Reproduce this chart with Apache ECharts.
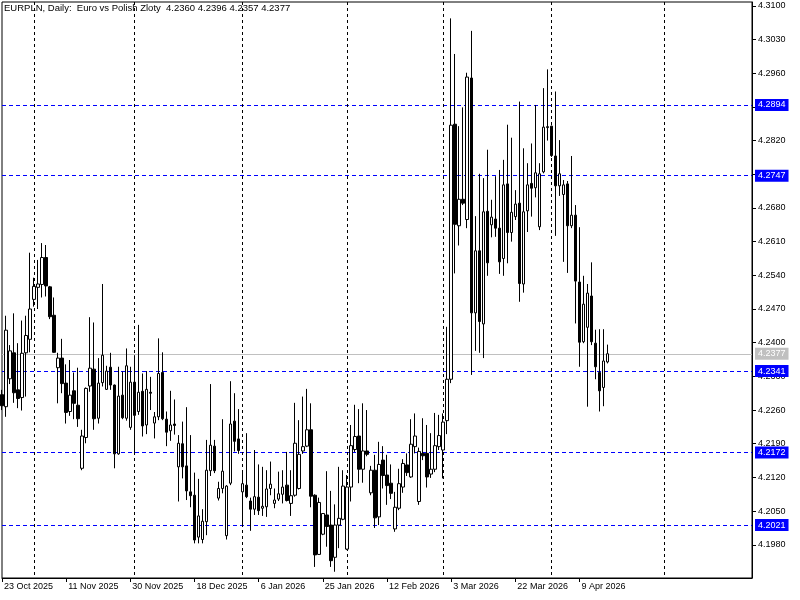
<!DOCTYPE html>
<html>
<head>
<meta charset="utf-8">
<title>EURPLN Daily</title>
<script src="https://cdn.jsdelivr.net/npm/echarts@6/dist/echarts.min.js"></script>
<style>
  html, body { margin: 0; padding: 0; background: #fff; }
  #main { width: 800px; height: 600px; }
</style>
</head>
<body>
<div id="main"></div>
<script>
// daily bars, EURPLN
var opens = [
  4.2292, 4.2267, 4.2325, 4.2379, 4.2302, 4.2286, 4.2379, 4.2407, 4.2490, 4.2515,
  4.2521, 4.2577, 4.2516, 4.2457, 4.2348, 4.2368, 4.2316, 4.2257, 4.2300, 4.2270,
  4.2139, 4.2203, 4.2310, 4.2345, 4.2243, 4.2317, 4.2303, 4.2349, 4.2312, 4.2169,
  4.2291, 4.2243, 4.2224, 4.2318, 4.2257, 4.2299, 4.2229, 4.2297, 4.2233, 4.2246,
  4.2338, 4.2241, 4.2217, 4.2231, 4.2142, 4.2190, 4.2144, 4.2090, 4.2083, 4.1996,
  4.1991, 4.2028, 4.2134, 4.2185, 4.2077, 4.2097, 4.1999, 4.2108, 4.2237, 4.2200,
  4.2090, 4.2104, 4.2071, 4.2054, 4.2079, 4.2056, 4.2059, 4.2097, 4.2066, 4.2075,
  4.2085, 4.2104, 4.2066, 4.2083, 4.2097, 4.2175, 4.2185, 4.2219, 4.2083, 4.1960,
  4.2002, 4.2042, 4.2021, 4.1954, 4.2021, 4.2033, 4.1971, 4.2100, 4.2178, 4.2206,
  4.2137, 4.2175, 4.2088, 4.2135, 4.2038, 4.2156, 4.2125, 4.2108, 4.2013, 4.2056,
  4.2100, 4.2146, 4.2121, 4.2184, 4.2070, 4.2170, 4.2170, 4.2127, 4.2137, 4.2184,
  4.2177, 4.2238, 4.2324, 4.2854, 4.2643, 4.2698, 4.2656, 4.2950, 4.2462, 4.2591,
  4.2439, 4.2673, 4.2645, 4.2657, 4.2638, 4.2575, 4.2730, 4.2629, 4.2662, 4.2690,
  4.2522, 4.2674, 4.2731, 4.2722, 4.2641, 4.2755, 4.2847, 4.2850, 4.2788, 4.2726,
  4.2708, 4.2730, 4.2643, 4.2665, 4.2526, 4.2402, 4.2432, 4.2497, 4.2399, 4.2338,
  4.2307, 4.2360
];
var highs = [
  4.2302, 4.2456, 4.2395, 4.2461, 4.2399, 4.2446, 4.2456, 4.2587, 4.2535, 4.2572,
  4.2607, 4.2603, 4.2518, 4.2494, 4.2379, 4.2408, 4.2355, 4.2364, 4.2338, 4.2348,
  4.2219, 4.2307, 4.2453, 4.2442, 4.2368, 4.2522, 4.2352, 4.2379, 4.2313, 4.2350,
  4.2340, 4.2388, 4.2350, 4.2374, 4.2437, 4.2336, 4.2341, 4.2329, 4.2256, 4.2409,
  4.2380, 4.2257, 4.2300, 4.2282, 4.2208, 4.2236, 4.2266, 4.2208, 4.2130, 4.2117,
  4.2054, 4.2198, 4.2314, 4.2198, 4.2111, 4.2241, 4.2104, 4.2320, 4.2295, 4.2262,
  4.2135, 4.2212, 4.2078, 4.2177, 4.2147, 4.2142, 4.2135, 4.2153, 4.2097, 4.2132,
  4.2135, 4.2173, 4.2135, 4.2275, 4.2239, 4.2288, 4.2304, 4.2274, 4.2085, 4.2078,
  4.2046, 4.2133, 4.2092, 4.2064, 4.2142, 4.2135, 4.2125, 4.2229, 4.2271, 4.2262,
  4.2274, 4.2260, 4.2144, 4.2167, 4.2194, 4.2185, 4.2167, 4.2147, 4.2090, 4.2138,
  4.2158, 4.2170, 4.2241, 4.2253, 4.2182, 4.2243, 4.2229, 4.2212, 4.2254, 4.2250,
  4.2253, 4.2433, 4.3074, 4.3000, 4.2850, 4.2889, 4.2961, 4.3048, 4.2663, 4.2751,
  4.2742, 4.2801, 4.2697, 4.2746, 4.2759, 4.2780, 4.2853, 4.2826, 4.2717, 4.2901,
  4.2804, 4.2773, 4.2814, 4.2894, 4.2773, 4.2929, 4.2968, 4.2851, 4.2922, 4.2821,
  4.2738, 4.2736, 4.2788, 4.2686, 4.2640, 4.2539, 4.2522, 4.2567, 4.2427, 4.2428,
  4.2428, 4.2396
];
var lows = [
  4.2260, 4.2246, 4.2314, 4.2275, 4.2264, 4.2259, 4.2288, 4.2380, 4.2475, 4.2470,
  4.2494, 4.2496, 4.2449, 4.2379, 4.2274, 4.2295, 4.2232, 4.2248, 4.2241, 4.2225,
  4.2135, 4.2191, 4.2298, 4.2219, 4.2232, 4.2309, 4.2302, 4.2302, 4.2139, 4.2167,
  4.2241, 4.2238, 4.2219, 4.2169, 4.2250, 4.2205, 4.2210, 4.2260, 4.2201, 4.2239,
  4.2239, 4.2185, 4.2196, 4.2209, 4.2070, 4.2118, 4.2073, 4.2058, 4.1983, 4.1983,
  4.1983, 4.2000, 4.2123, 4.2129, 4.2072, 4.2087, 4.1991, 4.2104, 4.2174, 4.2169,
  4.2017, 4.2077, 4.2009, 4.2042, 4.2042, 4.2040, 4.2038, 4.2083, 4.2056, 4.2071,
  4.2066, 4.2070, 4.2040, 4.2080, 4.2095, 4.2169, 4.2183, 4.2058, 4.1934, 4.1959,
  4.2000, 4.1976, 4.1934, 4.1924, 4.1973, 4.2031, 4.1969, 4.2070, 4.2173, 4.2108,
  4.2109, 4.2164, 4.2083, 4.2015, 4.2021, 4.2097, 4.2063, 4.2075, 4.2007, 4.2052,
  4.2088, 4.2123, 4.2119, 4.2170, 4.2063, 4.2156, 4.2099, 4.2119, 4.2131, 4.2177,
  4.2118, 4.2210, 4.2316, 4.2544, 4.2602, 4.2686, 4.2638, 4.2333, 4.2383, 4.2379,
  4.2368, 4.2539, 4.2619, 4.2620, 4.2543, 4.2539, 4.2565, 4.2610, 4.2655, 4.2485,
  4.2504, 4.2630, 4.2662, 4.2702, 4.2634, 4.2752, 4.2820, 4.2786, 4.2622, 4.2705,
  4.2568, 4.2545, 4.2638, 4.2440, 4.2350, 4.2399, 4.2267, 4.2395, 4.2324, 4.2257,
  4.2268, 4.2357
];
var closes = [
  4.2269, 4.2426, 4.2383, 4.2296, 4.2284, 4.2378, 4.2415, 4.2470, 4.2517, 4.2522,
  4.2577, 4.2518, 4.2454, 4.2380, 4.2368, 4.2315, 4.2255, 4.2291, 4.2274, 4.2242,
  4.2206, 4.2305, 4.2347, 4.2242, 4.2316, 4.2374, 4.2341, 4.2312, 4.2169, 4.2289,
  4.2244, 4.2352, 4.2318, 4.2249, 4.2297, 4.2227, 4.2303, 4.2295, 4.2246, 4.2336,
  4.2242, 4.2214, 4.2229, 4.2228, 4.2191, 4.2142, 4.2092, 4.2082, 4.1990, 4.2040,
  4.2029, 4.2135, 4.2187, 4.2134, 4.2097, 4.2133, 4.2102, 4.2231, 4.2195, 4.2176,
  4.2107, 4.2080, 4.2054, 4.2080, 4.2051, 4.2060, 4.2096, 4.2106, 4.2073, 4.2086,
  4.2100, 4.2072, 4.2082, 4.2191, 4.2168, 4.2184, 4.2219, 4.2081, 4.1959, 4.2068,
  4.2045, 4.2018, 4.1947, 4.2021, 4.2035, 4.2102, 4.2100, 4.2186, 4.2205, 4.2137,
  4.2175, 4.2168, 4.2135, 4.2036, 4.2147, 4.2124, 4.2103, 4.2087, 4.2058, 4.2107,
  4.2149, 4.2130, 4.2189, 4.2206, 4.2174, 4.2165, 4.2121, 4.2137, 4.2186, 4.2207,
  4.2235, 4.2324, 4.2852, 4.2646, 4.2698, 4.2690, 4.2952, 4.2462, 4.2591, 4.2444,
  4.2672, 4.2566, 4.2661, 4.2638, 4.2568, 4.2728, 4.2629, 4.2671, 4.2688, 4.2523,
  4.2672, 4.2728, 4.2721, 4.2753, 4.2751, 4.2848, 4.2849, 4.2789, 4.2726, 4.2751,
  4.2728, 4.2643, 4.2665, 4.2528, 4.2401, 4.2480, 4.2503, 4.2402, 4.2350, 4.2300,
  4.2362, 4.2377
];

// price ticks on the right scale
var yTicks = [4.1980, 4.2050, 4.2120, 4.2190, 4.2260, 4.2330, 4.2400, 4.2470,
  4.2540, 4.2610, 4.2680, 4.2750, 4.2820, 4.2890, 4.2960, 4.3030, 4.3100];
// horizontal levels drawn on the chart
var levels = [4.2021, 4.2172, 4.2341, 4.2747, 4.2894];
var bid = 4.2377;

var firstDay = Date.UTC(2025, 9, 23);
var futureBars = 36;     // empty space right of the last bar
var labelEvery = 16;
var months = ["Jan", "Feb", "Mar", "Apr", "May", "Jun", "Jul", "Aug", "Sep", "Oct", "Nov", "Dec"];

// trading days run Sun..Fri, the empty future part uses calendar days
var categories = [];
var monthIdx = [];
var t = firstDay;
while (categories.length < opens.length + futureBars) {
  var d = new Date(t);
  if (categories.length >= opens.length || d.getUTCDay() !== 6) {
    categories.push(d.getUTCDate() + " " + months[d.getUTCMonth()] + " " + d.getUTCFullYear());
    monthIdx.push(d.getUTCMonth());
  }
  t += 86400000;
}

var candles = opens.map(function (o, i) {
  return [o, closes[i], lows[i], highs[i]];
});

var font = "Liberation Sans";
var yMin = 4.1911;
var yMax = 4.3108;

function showLabel(index) {
  return index % labelEvery === 0 && index < opens.length;
}
function monthStart(index) {
  return index > 0 && monthIdx[index] !== monthIdx[index - 1];
}
function price(v) {
  return v.toFixed(4);
}

// overlay axis: draws horizontal level lines plus the coloured price box
function levelAxis(values, color, dash) {
  return {
    type: "value",
    position: "right",
    min: yMin,
    max: yMax,
    axisLine: { show: false },
    axisTick: { show: false, customValues: values },
    axisLabel: {
      customValues: values,
      formatter: price,
      margin: 3,
      color: "#fff",
      backgroundColor: color,
      padding: [1, 3, 0, 3],
      lineHeight: 11,
      fontFamily: font,
      fontSize: 9,
    },
    splitLine: {
      show: true,
      customValues: values,
      lineStyle: { color: color, type: dash, width: 1 },
    },
  };
}

var chartDom = document.getElementById("main");
var myChart = echarts.init(chartDom, null, { renderer: "canvas" });

var option = {
  animation: false,
  backgroundColor: "#fff",
  title: {
    text: "EURPLN, Daily:  Euro vs Polish Zloty  4.2360 4.2396 4.2357 4.2377",
    left: 4,
    top: 3,
    padding: 0,
    textStyle: {
      fontFamily: font,
      fontSize: 9.5,
      fontWeight: "normal",
      color: "#000",
    },
  },
  grid: {
    left: 2,
    right: 48,
    top: 2,
    bottom: 22,
    show: true,
    borderColor: "#000",
    borderWidth: 1,
  },
  xAxis: {
    type: "category",
    data: categories,
    boundaryGap: false,
    axisLine: { lineStyle: { color: "#000", width: 1 } },
    axisTick: {
      show: true,
      interval: showLabel,
      length: 4,
      lineStyle: { color: "#000" },
    },
    axisLabel: {
      interval: showLabel,
      align: "left",
      margin: 4,
      padding: [0, 0, 0, 2],
      color: "#000",
      fontFamily: font,
      fontSize: 9,
    },
    splitLine: {
      show: true,
      interval: monthStart,
      lineStyle: { color: "#000", type: [3, 3], width: 1 },
    },
  },
  yAxis: [
    {
      type: "value",
      position: "right",
      min: yMin,
      max: yMax,
      axisLine: { show: true, lineStyle: { color: "#000" } },
      axisTick: {
        show: true,
        length: 4,
        customValues: yTicks,
        lineStyle: { color: "#000" },
      },
      axisLabel: {
        customValues: yTicks,
        formatter: price,
        margin: 6,
        color: "#000",
        fontFamily: font,
        fontSize: 9,
      },
      splitLine: { show: false },
    },
    levelAxis([bid], "#c0c0c0", "solid"),
    levelAxis(levels, "#0000ff", [4, 3]),
  ],
  series: [
    {
      type: "candlestick",
      data: candles,
      barWidth: 3,
      itemStyle: {
        color: "#fff",
        color0: "#000",
        borderColor: "#000",
        borderColor0: "#000",
        borderWidth: 1,
      },
    },
  ],
};

option && myChart.setOption(option);
</script>
</body>
</html>
